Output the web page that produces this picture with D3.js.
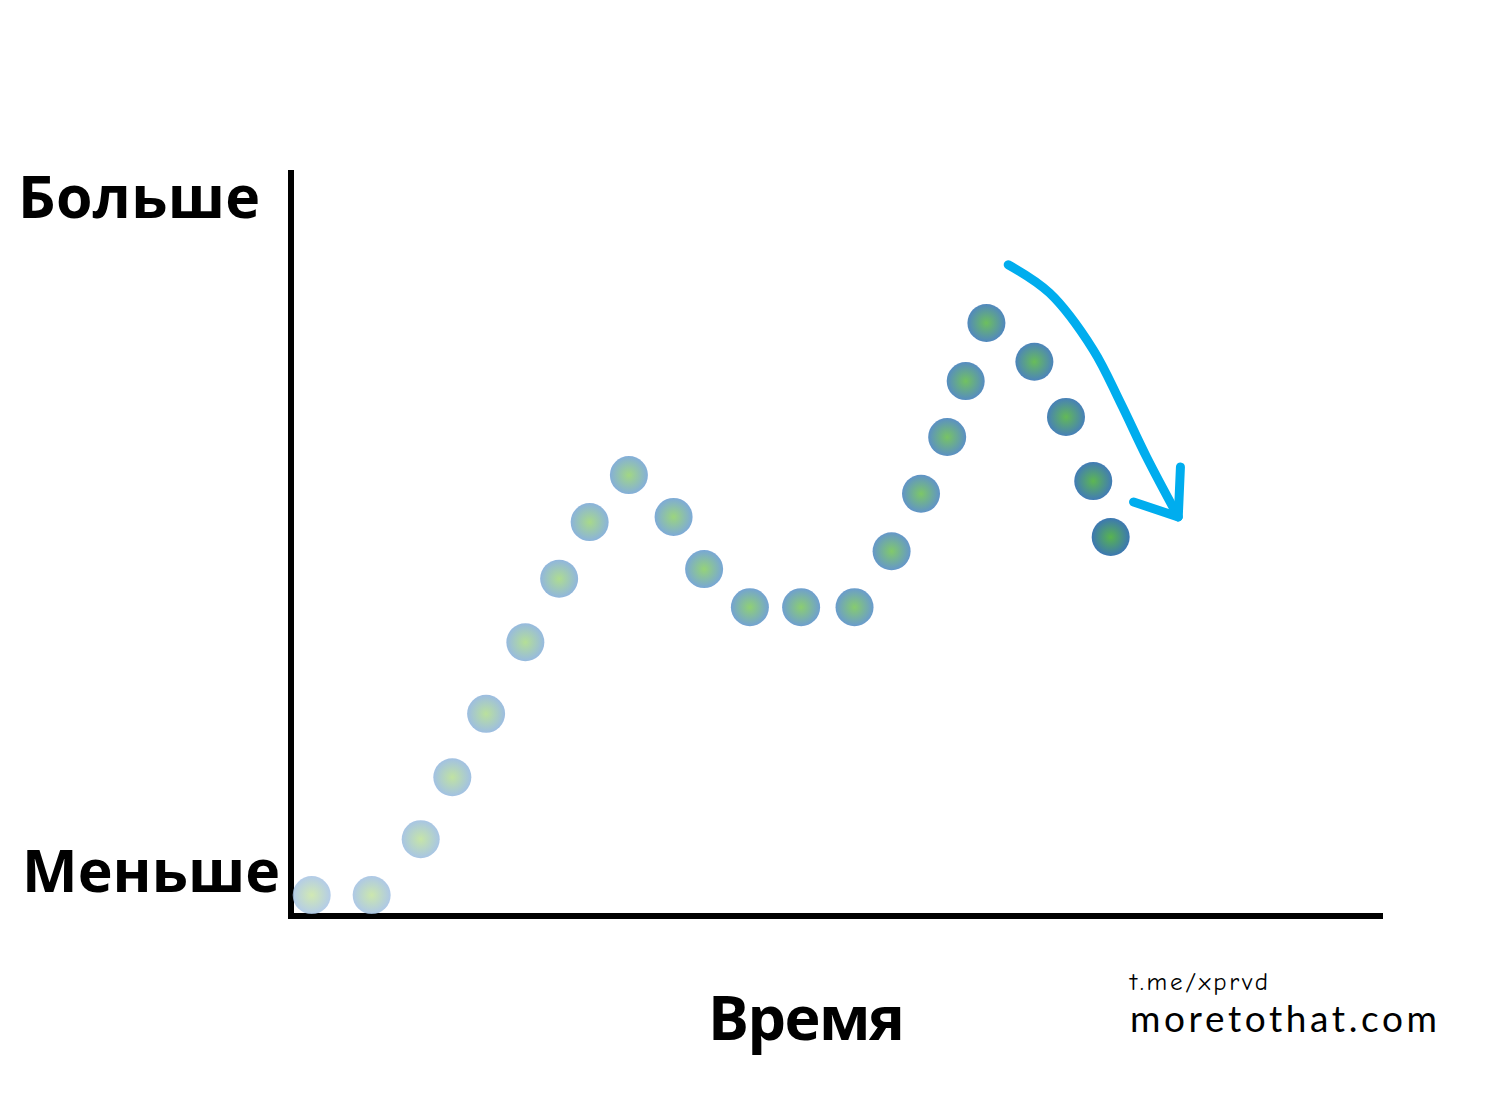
<!DOCTYPE html>
<html>
<head>
<meta charset="utf-8">
<script src="https://cdn.jsdelivr.net/npm/d3@7"></script>
<style>
  body { margin: 0; background: #fff; }
  text { font-family: "Open Sans", "DejaVu Sans", sans-serif; }
</style>
</head>
<body>
<div id="chart"></div>
<script>
// data: time (0-100) vs amount (0-100)
let timeValues = [1.9, 7.4, 11.9, 14.8, 17.9, 21.5, 24.6, 27.4, 31.0, 35.1, 37.9, 42.1,
                  46.8, 51.7, 55.1, 57.8, 60.2, 61.9, 63.8, 68.2, 71.1, 73.6, 75.2];
let amountValues = [2.8, 2.8, 10.3, 18.6, 27.1, 36.7, 45.2, 52.8, 59.1, 53.5, 46.5, 41.4,
                    41.4, 41.4, 48.9, 56.6, 64.2, 71.7, 79.5, 74.3, 66.9, 58.3, 50.8];
// trend arrow drawn over the falling tail
let arrowTime = [65.8, 69.6, 73.6, 76.1, 78.5, 81.4];
let arrowAmount = [87.3, 83.5, 75.9, 68.8, 61.5, 53.5];
let arrowHeadTime = [77.3, 81.4, 81.6];
let arrowHeadAmount = [55.5, 53.5, 60.2];

let axisLabels = { top: "Больше", bottom: "Меньше", x: "Время" };
let credits = ["t.me/xprvd", "moretothat.com"];

let width = 1500;
let height = 1100;
let margin = { top: 170, right: 119, bottom: 184, left: 291 };

let svg = d3.select("#chart")
    .append("svg")
    .attr("width", width)
    .attr("height", height);

let x = d3.scaleLinear()
    .domain([0, 100])
    .range([margin.left, width - margin.right]);

let y = d3.scaleLinear()
    .domain([0, 100])
    .range([height - margin.bottom, margin.top]);

// colour ramps from pale to saturated along time
let edgeColor = d3.scaleLinear()
    .domain([0, 0.45, 1])
    .range(["#a6c3e4", "#6c9fd2", "#3c77b2"]);
let centerColor = d3.scaleLinear()
    .domain([0, 0.45, 1])
    .range(["#c9e5a6", "#8ccf6c", "#58b44f"]);

let data = timeValues.map((t, i) => ({ t: t, v: amountValues[i], i: i }));
let n = data.length;

let defs = svg.append("defs");
data.forEach(d => {
    let g = defs.append("radialGradient")
        .attr("id", "dot" + d.i);
    g.append("stop").attr("offset", "0%").attr("stop-color", centerColor(d.i / (n - 1)));
    g.append("stop").attr("offset", "100%").attr("stop-color", edgeColor(d.i / (n - 1)));
});

// axes (plain thick lines)
svg.append("line")
    .attr("x1", x(0)).attr("y1", y(100))
    .attr("x2", x(0)).attr("y2", y(0) + 3)
    .attr("stroke", "#000").attr("stroke-width", 6);
svg.append("line")
    .attr("x1", x(0) - 3).attr("y1", y(0))
    .attr("x2", x(100) + 2).attr("y2", y(0))
    .attr("stroke", "#000").attr("stroke-width", 6);

// dots
svg.selectAll(".dot")
    .data(data)
    .enter()
    .append("circle")
    .attr("class", "dot")
    .attr("cx", d => x(d.t))
    .attr("cy", d => y(d.v))
    .attr("r", 19)
    .attr("fill", d => "url(#dot" + d.i + ")")
    .attr("opacity", d => 0.85 + 0.15 * d.i / (n - 1));

// arrow
let curve = d3.line()
    .x(d => x(d[0]))
    .y(d => y(d[1]))
    .curve(d3.curveCatmullRom);

svg.append("path")
    .datum(arrowTime.map((t, i) => [t, arrowAmount[i]]))
    .attr("d", curve)
    .attr("fill", "none")
    .attr("stroke", "#00adee")
    .attr("stroke-width", 9)
    .attr("stroke-linecap", "round");

svg.append("path")
    .datum(arrowHeadTime.map((t, i) => [t, arrowHeadAmount[i]]))
    .attr("d", d3.line().x(d => x(d[0])).y(d => y(d[1])))
    .attr("fill", "none")
    .attr("stroke", "#00adee")
    .attr("stroke-width", 9)
    .attr("stroke-linecap", "round")
    .attr("stroke-linejoin", "round");

// labels
svg.append("text")
    .attr("x", 18).attr("y", 218)
    .attr("font-size", 59).attr("font-weight", 700)
    .attr("textLength", 242)
    .text(axisLabels.top);

svg.append("text")
    .attr("x", 22).attr("y", 892)
    .attr("font-size", 59).attr("font-weight", 700)
    .attr("textLength", 258)
    .text(axisLabels.bottom);

svg.append("text")
    .attr("x", 708).attr("y", 1040)
    .attr("font-size", 61).attr("font-weight", 700)
    .attr("textLength", 197)
    .text(axisLabels.x);

svg.append("text")
    .attr("x", 1130).attr("y", 990)
    .attr("font-size", 25)
    .attr("textLength", 138)
    .style("font-family", "'Comic Neue', 'DejaVu Sans', sans-serif")
    .text(credits[0]);

svg.append("text")
    .attr("x", 1130).attr("y", 1032)
    .attr("font-size", 37)
    .attr("textLength", 307)
    .style("font-family", "Lato, 'Noto Sans', sans-serif")
    .text(credits[1]);
</script>
</body>
</html>
